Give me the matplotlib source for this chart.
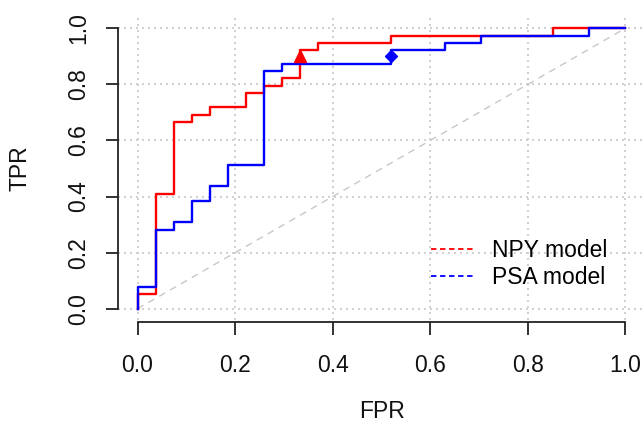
import matplotlib
matplotlib.use('Agg')
import matplotlib.pyplot as plt

plt.rcParams['font.family'] = ['Liberation Sans', 'DejaVu Sans']

# ROC vertices
npy_fpr = [0.0, 0.0, 0.037, 0.074, 0.111, 0.148, 0.222, 0.259, 0.296, 0.333, 0.370, 0.519, 0.852, 1.0]
npy_tpr = [0.0, 0.051, 0.410, 0.667, 0.692, 0.718, 0.769, 0.795, 0.821, 0.923, 0.949, 0.974, 1.0, 1.0]
psa_fpr = [0.0, 0.0, 0.037, 0.074, 0.111, 0.148, 0.185, 0.259, 0.296, 0.519, 0.630, 0.704, 0.926, 1.0]
psa_tpr = [0.0, 0.077, 0.282, 0.308, 0.385, 0.436, 0.513, 0.846, 0.872, 0.923, 0.949, 0.974, 1.0, 1.0]

# best cut-off points
npy_best = (0.333, 0.90)
psa_best = (0.519, 0.90)

labels = ['NPY model', 'PSA model']
ticks = [0.0, 0.2, 0.4, 0.6, 0.8, 1.0]
tick_labels = ['0.0', '0.2', '0.4', '0.6', '0.8', '1.0']

W, H = 644, 428
fig = plt.figure(figsize=(W / 100, H / 100), dpi=100)
ax = fig.add_axes([118 / W, 1 - 320 / H, (645 - 118) / W, (320 - 17) / H])

# grid + chance line
for t in ticks:
    ax.axvline(t, color='#c8c8c8', linestyle=(0, (1.2, 2.4)), linewidth=1.2, zorder=0)
    ax.axhline(t, color='#c8c8c8', linestyle=(0, (1.2, 2.4)), linewidth=1.2, zorder=0)
ax.plot([0, 1], [0, 1], color='#c8c8c8', linestyle=(0, (5, 4)), linewidth=1.0, zorder=1)

ax.plot(npy_fpr, npy_tpr, drawstyle='steps-post', color='#ff0000', linewidth=1.7, zorder=2)
ax.plot(psa_fpr, psa_tpr, drawstyle='steps-post', color='#0000ff', linewidth=1.7, zorder=3)
ax.plot(*npy_best, marker='^', color='#ff0000', markersize=9, zorder=4)
ax.plot(*psa_best, marker='D', color='#0000ff', markersize=6, zorder=4)

ax.set_xlim(-0.04, 1.04)
ax.set_ylim(-0.04, 1.04)

for s in ['top', 'right']:
    ax.spines[s].set_visible(False)
ax.spines['left'].set_bounds(0, 1)
ax.spines['bottom'].set_bounds(0, 1)
ax.spines['bottom'].set_position(('outward', 1.5))
for s in ['left', 'bottom']:
    ax.spines[s].set_linewidth(1.3)
    ax.spines[s].set_color('#222222')

ax.set_xticks(ticks)
ax.set_xticklabels(tick_labels)
ax.set_yticks(ticks)
ax.set_yticklabels(tick_labels, rotation=90, va='center')
ax.tick_params(axis='both', length=9, width=1.3, color='#222222', labelsize=16.5, labelcolor='#111111')
ax.tick_params(axis='x', pad=14)
ax.tick_params(axis='y', pad=11)

fig.text(382 / W, 1 - 412 / H, 'FPR', ha='center', va='center', fontsize=16.5, color='#111111')
fig.text(20 / W, 1 - 168 / H, 'TPR', ha='center', va='center', rotation=90, fontsize=16.5, color='#111111')

h1, = ax.plot([], [], color='#ff0000', linestyle=(0, (3, 2)), linewidth=1.3)
h2, = ax.plot([], [], color='#0000ff', linestyle=(0, (3, 2)), linewidth=1.3)
ax.legend([h1, h2], labels, loc='center left', bbox_to_anchor=(410 / W, 1 - 264 / H),
          bbox_transform=fig.transFigure, frameon=False, fontsize=16.5,
          handlelength=1.9, handletextpad=0.8, labelspacing=0.2)

fig.savefig('out.png', dpi=100)
